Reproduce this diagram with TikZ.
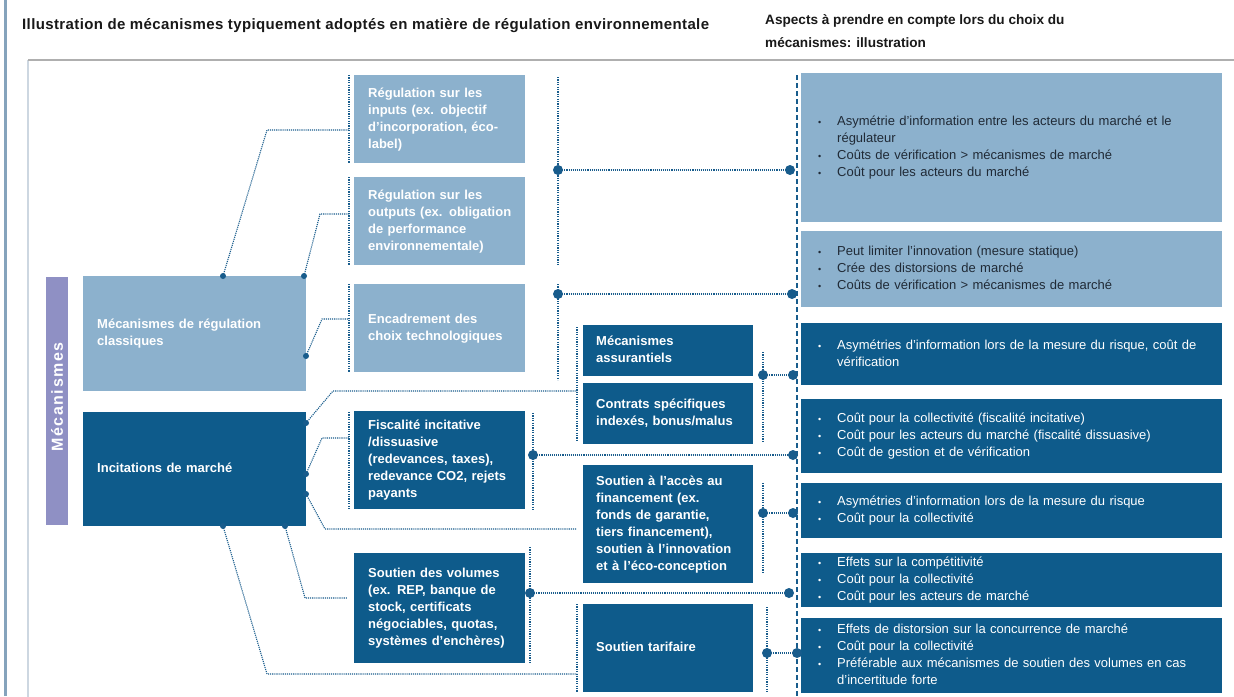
\documentclass[tikz,border=0pt]{standalone}
\usepackage{fontspec}
\setmainfont{Liberation Sans}

\definecolor{lightbox}{RGB}{140,177,205}
\definecolor{darkbox}{RGB}{14,91,139}
\definecolor{barcol}{RGB}{143,144,196}
\definecolor{linecol}{RGB}{24,92,140}
\definecolor{framecol}{RGB}{205,215,225}
\definecolor{frametop}{RGB}{175,175,175}
\definecolor{edgecol}{RGB}{133,163,188}
\definecolor{textdark}{RGB}{32,42,54}
\definecolor{titlecol}{RGB}{25,25,25}

% one text block: lines kept whole, left aligned
\newcommand\tl[1]{\begin{tabular}{@{}l@{}}#1\end{tabular}}
% bullet list block: bullet column + text column
\newcommand\bl[1]{\begin{tabular}{@{}p{19pt}@{}l@{}}#1\end{tabular}}
\newcommand\bu{{\fontsize{9}{9}\selectfont\textbullet}}

% box: name, x1, y1, x2, y2, left padding, style, text
\newcommand\bx[8]{%
  \pgfmathsetmacro\bw{#4-#2}%
  \pgfmathsetmacro\bh{#5-#3}%
  \pgfmathsetmacro\tw{#4-#2-2*#6}%
  \node[#7, anchor=north west, inner xsep=#6pt, inner ysep=0pt,
        minimum width=\bw pt, minimum height=\bh pt, text width=\tw pt,
        align=left] (#1) at (#2,#3) {#8};}

\tikzset{
  boxfont/.style={font=\fontsize{13}{17}\selectfont\bfseries},
  listfont/.style={font=\fontsize{13}{17}\selectfont},
  lightb/.style={fill=lightbox, text=white, boxfont},
  darkb/.style={fill=darkbox, text=white, boxfont},
  lightc/.style={fill=lightbox, text=textdark, listfont},
  darkc/.style={fill=darkbox, text=white, listfont},
  dl/.style={draw=linecol, line width=1.1pt, dash pattern=on 1.1pt off 1pt},
  bracket/.style={draw=linecol, line width=1.2pt, dash pattern=on 1.2pt off 1.2pt},
  spine/.style={draw=linecol, line width=1.6pt, dash pattern=on 5pt off 3pt},
}
\newcommand\bigdot[1]{\fill[linecol] (#1) circle (5pt);}
\newcommand\smalldot[1]{\fill[linecol] (#1) circle (3pt);}

\begin{document}
\begin{tikzpicture}[x=1pt,y=-1pt]
\useasboundingbox (0,0) rectangle (1234,696);
\fill[white] (0,0) rectangle (1234,696);

% page edge and frame
\draw[edgecol, line width=3pt] (5,0) -- (5,696);
\draw[framecol, line width=1.2pt] (28,700) -- (28,60);
\draw[frametop, line width=1.2pt] (28,60) -- (1240,60);

% headings
\node[anchor=west, inner sep=0pt, text=titlecol, font=\fontsize{15}{17}\selectfont\bfseries\addfontfeature{LetterSpace=2.5}] (title1) at (22,26)
  {Illustration de mécanismes typiquement adoptés en matière de régulation environnementale};
\node[anchor=west, inner sep=0pt, text=titlecol, align=left, font=\fontsize{13.6}{23}\selectfont\bfseries] (title2) at (765,31)
  {Aspects à prendre en compte lors du choix du\\mécanismes: illustration};

% vertical label bar
\fill[barcol] (46,277) rectangle (68,525);
\node[rotate=90, text=white, font=\fontsize{16}{16}\selectfont\bfseries\addfontfeature{LetterSpace=10}] (mecalabel) at (57,397) {Mécanismes};

% left column
\bx{L1}{83}{276}{306}{391}{14}{lightb}{\tl{Mécanismes de régulation\\classiques}}
\bx{L2}{83}{412}{306}{526}{14}{darkb}{\tl{Incitations de marché}}

% regulation boxes
\bx{R1}{354}{75}{525}{163}{14}{lightb}{\tl{Régulation sur les\\inputs (ex. objectif\\d’incorporation, éco-\\label)}}
\bx{R2}{354}{177}{525}{265}{14}{lightb}{\tl{Régulation sur les\\outputs (ex. obligation\\de performance\\environnementale)}}
\bx{R3}{354}{284}{525}{372}{14}{lightb}{\tl{Encadrement des\\choix technologiques}}

% market incentive boxes
\bx{F}{354}{411}{525}{509}{14}{darkb}{\tl{Fiscalité incitative\\/dissuasive\\(redevances, taxes),\\redevance CO2, rejets\\payants}}
\bx{V}{354}{553}{525}{663}{14}{darkb}{\tl{Soutien des volumes\\(ex. REP, banque de\\stock, certificats\\négociables, quotas,\\systèmes d’enchères)}}
\bx{M1}{583}{325}{753}{376}{13}{darkb}{\tl{Mécanismes\\assurantiels}}
\bx{M2}{583}{383}{753}{444}{13}{darkb}{\tl{Contrats spécifiques\\indexés, bonus/malus}}
\bx{M3}{583}{465}{753}{583}{13}{darkb}{\tl{Soutien à l’accès au\\financement (ex.\\fonds de garantie,\\tiers financement),\\soutien à l’innovation\\et à l’éco-conception}}
\bx{M4}{583}{604}{753}{692}{13}{darkb}{\tl{Soutien tarifaire}}

% aspects column
\bx{C1}{801}{73}{1222}{222}{17}{lightc}{\bl{\bu & Asymétrie d’information entre les acteurs du marché et le\\ & régulateur\\ \bu & Coûts de vérification > mécanismes de marché\\ \bu & Coût pour les acteurs du marché}}
\bx{C2}{801}{231}{1222}{307}{17}{lightc}{\bl{\bu & Peut limiter l’innovation (mesure statique)\\ \bu & Crée des distorsions de marché\\ \bu & Coûts de vérification > mécanismes de marché}}
\bx{C3}{801}{323}{1222}{385}{17}{darkc}{\bl{\bu & Asymétries d’information lors de la mesure du risque, coût de\\ & vérification}}
\bx{C4}{801}{399}{1222}{473}{17}{darkc}{\bl{\bu & Coût pour la collectivité (fiscalité incitative)\\ \bu & Coût pour les acteurs du marché (fiscalité dissuasive)\\ \bu & Coût de gestion et de vérification}}
\bx{C5}{801}{483}{1222}{538}{17}{darkc}{\bl{\bu & Asymétries d’information lors de la mesure du risque\\ \bu & Coût pour la collectivité}}
\bx{C6}{801}{553}{1222}{607}{17}{darkc}{\bl{\bu & Effets sur la compétitivité\\ \bu & Coût pour la collectivité\\ \bu & Coût pour les acteurs de marché}}
\bx{C7}{801}{618}{1222}{693}{17}{darkc}{\bl{\bu & Effets de distorsion sur la concurrence de marché\\ \bu & Coût pour la collectivité\\ \bu & Préférable aux mécanismes de soutien des volumes en cas\\ & d’incertitude forte}}

% spine in front of the aspects column
\coordinate (spT) at (797,75);
\coordinate (spB) at (797,696);
\draw[spine] (spT) -- (spB);

% brackets on the left of the target boxes
\draw[bracket] (349,75) -- (349,163);
\draw[bracket] (349,177) -- (349,265);
\draw[bracket] (349,284) -- (349,372);
\draw[bracket] (349,412) -- (349,510);
\draw[bracket] (577,327) -- (577,442);
\draw[bracket] (577,604) -- (577,692);

% connectors from "Mécanismes de régulation classiques"
\coordinate (a1) at (223,276); \coordinate (a1k) at (267,130); \coordinate (a1e) at (349,130);
\coordinate (a2) at (304,276); \coordinate (a2k) at (320,214); \coordinate (a2e) at (349,214);
\coordinate (a3) at (306,356); \coordinate (a3k) at (322,319); \coordinate (a3e) at (349,319);
\draw[dl] (a1) -- (a1k) -- (a1e);
\draw[dl] (a2) -- (a2k) -- (a2e);
\draw[dl] (a3) -- (a3k) -- (a3e);
\smalldot{a1} \smalldot{a2} \smalldot{a3}

% connectors from "Incitations de marché"
\coordinate (b1) at (306,423); \coordinate (b1k) at (333,391); \coordinate (b1e) at (577,391);
\coordinate (b2) at (306,474); \coordinate (b2k) at (322,438); \coordinate (b2e) at (349,438);
\coordinate (b3) at (306,494); \coordinate (b3k) at (325,529); \coordinate (b3e) at (577,529);
\coordinate (b4) at (285,526); \coordinate (b4k) at (305,598); \coordinate (b4e) at (347,598);
\coordinate (b5) at (223,526); \coordinate (b5k) at (267,674); \coordinate (b5e) at (577,674);
\draw[dl] (b1) -- (b1k) -- (b1e);
\draw[dl] (b2) -- (b2k) -- (b2e);
\draw[dl] (b3) -- (b3k) -- (b3e);
\draw[dl] (b4) -- (b4k) -- (b4e);
\draw[dl] (b5) -- (b5k) -- (b5e);
\smalldot{b1} \smalldot{b2} \smalldot{b3} \smalldot{b4} \smalldot{b5}

% links from the mechanisms to their aspects
\draw[bracket] (558,77) -- (558,265);
\draw[bracket] (558,284) -- (558,380);
\draw[bracket] (533,413) -- (533,510);
\draw[bracket] (530,547) -- (530,663);
\draw[bracket] (763,352) -- (763,442);
\draw[bracket] (763,483) -- (763,573);
\draw[bracket] (767,607) -- (767,692);

\coordinate (c1) at (558,170); \coordinate (c1e) at (790,170);
\coordinate (c2) at (558,294); \coordinate (c2e) at (792,294);
\coordinate (c3) at (763,375); \coordinate (c3e) at (793,375);
\coordinate (c4) at (533,455); \coordinate (c4e) at (793,455);
\coordinate (c5) at (763,513); \coordinate (c5e) at (793,513);
\coordinate (c6) at (530,593); \coordinate (c6e) at (789,593);
\coordinate (c7) at (767,653); \coordinate (c7e) at (797,653);
\foreach \k in {c1,c2,c3,c4,c5,c6,c7}{
  \draw[dl] (\k) -- (\k e);
  \bigdot{\k} \bigdot{\k e}
}
\end{tikzpicture}
\end{document}
